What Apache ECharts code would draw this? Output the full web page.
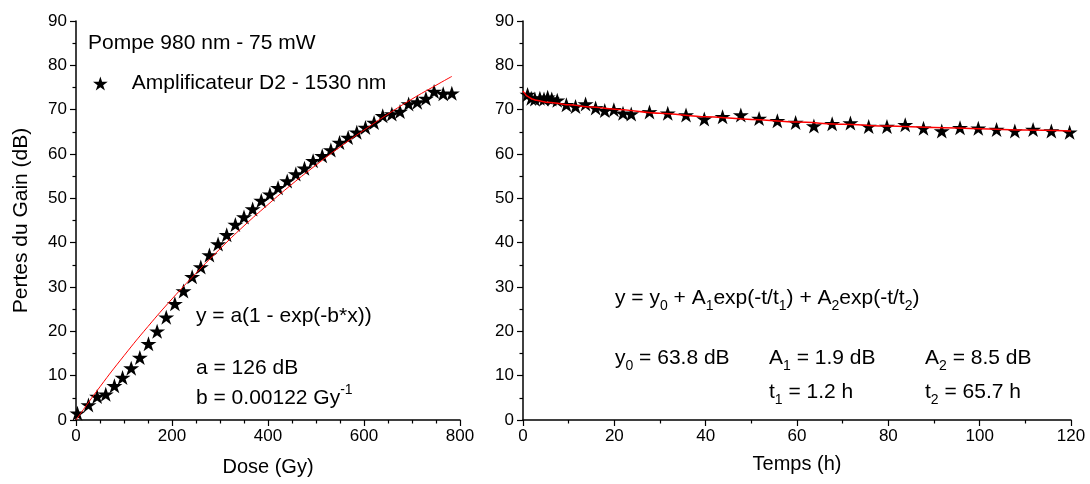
<!DOCTYPE html>
<html>
<head>
<meta charset="utf-8">
<script src="https://cdn.jsdelivr.net/npm/echarts@6/dist/echarts.min.js"></script>
<style>
html,body{margin:0;padding:0;background:#fff;}
#chart{width:1090px;height:484px;}
</style>
</head>
<body>
<div id="chart"></div>
<script>
// ---- Left panel: gain loss vs dose ----
const doseX = [3, 26, 44, 62, 80, 97, 115, 133, 151, 169, 188, 206, 224, 242, 260, 278, 296, 314, 332, 350, 368, 386, 404, 421, 440, 458, 476, 494, 513, 531, 549, 567, 585, 603, 621, 639, 658, 675, 693, 711, 729, 746, 765, 783];
const doseY = [1.5, 3.4, 5.3, 5.8, 7.7, 9.6, 11.7, 14.1, 17.2, 20.0, 23.2, 26.2, 29.1, 32.3, 34.5, 37.2, 39.7, 41.8, 44.1, 45.8, 47.6, 49.5, 50.9, 52.4, 53.9, 55.5, 56.8, 58.5, 59.6, 60.9, 62.6, 63.7, 64.9, 66.0, 67.1, 68.6, 69.0, 69.6, 71.3, 71.7, 72.5, 74.1, 73.6, 73.7];
const doseFitX = [0, 50, 100, 150, 200, 250, 300, 350, 400, 450, 500, 550, 600, 650, 700, 750, 783];
const doseFitY = [0, 7.5, 14.5, 21.1, 27.3, 33.1, 38.6, 43.8, 48.6, 53.2, 57.5, 61.6, 65.4, 69.0, 72.4, 75.5, 77.5];

// ---- Right panel: recovery vs time ----
const timeX = [1.0, 1.8, 2.6, 3.7, 4.6, 5.4, 6.3, 7.5, 9.5, 11.5, 13.7, 15.9, 17.9, 19.9, 21.9, 23.7, 27.7, 31.7, 35.7, 39.7, 43.7, 47.7, 51.7, 55.7, 59.7, 63.7, 67.7, 71.7, 75.7, 79.7, 83.7, 87.7, 91.7, 95.7, 99.7, 103.7, 107.7, 111.7, 115.7, 119.7];
const timeY = [73.4, 72.6, 72.4, 72.6, 72.4, 72.8, 72.4, 72.1, 71.1, 70.7, 71.3, 70.4, 69.8, 70.0, 69.2, 69.0, 69.5, 69.2, 68.8, 67.9, 68.4, 68.8, 68.0, 67.5, 67.1, 66.3, 66.8, 67.0, 66.2, 66.2, 66.6, 65.8, 65.2, 65.9, 65.8, 65.5, 65.2, 65.5, 65.2, 64.9];
const timeFitX = [0, 0.25, 0.5, 0.75, 1, 1.5, 2, 3, 4, 5, 7, 10, 15, 20, 30, 40, 50, 60, 70, 80, 90, 100, 110, 120];
const timeFitY = [74.2, 73.8, 73.5, 73.2, 73.0, 72.7, 72.4, 72.1, 71.9, 71.7, 71.5, 71.1, 70.6, 70.1, 69.2, 68.4, 67.8, 67.2, 66.7, 66.3, 66.0, 65.7, 65.4, 65.2];

// ---- Axis ticks ----
const yTicks = {min: 0, max: 90, interval: 10};
const doseTicks = {min: 0, max: 800, interval: 200};
const timeTicks = {min: 0, max: 120, interval: 20};

const seriesName = 'Amplificateur D2 - 1530 nm';
const titleText = 'Pompe 980 nm - 75 mW';

const FONT = '"Liberation Sans", Arial, Helvetica, sans-serif';
const STAR = 'path://M50 0 L61.17 34.63 L97.55 34.55 L68.07 55.87 L79.39 90.45 L50 69 L20.61 90.45 L31.93 55.87 L2.45 34.55 L38.83 34.63 Z';

function pair(xs, ys) { return xs.map((x, i) => [x, ys[i]]); }

const axisCommon = {
  axisLine: {show: true, onZero: false, lineStyle: {color: '#000', width: 1.5}},
  axisTick: {show: true, inside: false, length: 6, lineStyle: {color: '#000', width: 1.2}},
  minorTick: {show: true, splitNumber: 2, length: 3.5, lineStyle: {color: '#000', width: 1.2}},
  splitLine: {show: false},
  minorSplitLine: {show: false},
  axisLabel: {color: '#000', fontSize: 17, fontFamily: FONT},
  nameTextStyle: {color: '#000', fontSize: 20, fontFamily: FONT},
  nameLocation: 'middle'
};

function xAxis(idx, t, name, minorSplit, gap) {
  return Object.assign({}, axisCommon, {
    type: 'value', gridIndex: idx, min: t.min, max: t.max, interval: t.interval,
    name: name, nameGap: gap,
    minorTick: Object.assign({}, axisCommon.minorTick, {splitNumber: minorSplit}),
    axisLabel: Object.assign({}, axisCommon.axisLabel, {margin: 8})
  });
}
function yAxis(idx, name) {
  return Object.assign({}, axisCommon, {
    type: 'value', gridIndex: idx, min: yTicks.min, max: yTicks.max, interval: yTicks.interval,
    name: name, nameGap: 44,
    nameTextStyle: {color: '#000', fontSize: 21, fontFamily: FONT},
    axisLabel: Object.assign({}, axisCommon.axisLabel, {margin: 9})
  });
}

const mainStyle = {fontSize: 21, fontFamily: FONT, color: '#000', lineHeight: 30, verticalAlign: 'middle'};
const subStyle = {fontSize: 14, fontFamily: FONT, color: '#000', lineHeight: 30, verticalAlign: 'bottom'};
const supStyle = {fontSize: 14, fontFamily: FONT, color: '#000', lineHeight: 30, verticalAlign: 'top'};
const rich = {n: mainStyle, s: subStyle, p: supStyle};

function txt(x, y, text) {
  return {
    type: 'text', x: x, y: y, silent: true,
    style: {text: text, rich: rich, font: '21px ' + FONT, fill: '#000', verticalAlign: 'middle', align: 'left'}
  };
}

const option = {
  backgroundColor: '#fff',
  animation: false,
  grid: [
    {left: 76, top: 21, width: 384, height: 399},
    {left: 523, top: 21, width: 548, height: 399}
  ],
  xAxis: [
    xAxis(0, doseTicks, 'Dose (Gy)', 4, 37),
    xAxis(1, timeTicks, 'Temps (h)', 2, 34)
  ],
  yAxis: [
    yAxis(0, 'Pertes du Gain (dB)'),
    Object.assign(yAxis(1, ''), {name: ''})
  ],
  legend: {
    data: [seriesName],
    left: 88, top: 68,
    itemWidth: 15, itemHeight: 14,
    itemGap: 0,
    textStyle: {color: '#000', fontSize: 21, fontFamily: FONT, padding: [0, 0, 0, 19]},
    itemStyle: {opacity: 1},
    selectedMode: false
  },
  series: [
    {
      name: seriesName, type: 'scatter', xAxisIndex: 0, yAxisIndex: 0,
      data: pair(doseX, doseY), symbol: STAR, symbolSize: [16, 15],
      itemStyle: {color: '#000', opacity: 1}, z: 2
    },
    {
      name: 'fit1', type: 'line', xAxisIndex: 0, yAxisIndex: 0,
      data: pair(doseFitX, doseFitY), showSymbol: false, smooth: true,
      lineStyle: {color: '#ff0000', width: 1}, z: 3
    },
    {
      name: 'recov', type: 'scatter', xAxisIndex: 1, yAxisIndex: 1,
      data: pair(timeX, timeY), symbol: STAR, symbolSize: [16, 15],
      itemStyle: {color: '#000', opacity: 1}, z: 2
    },
    {
      name: 'fit2', type: 'line', xAxisIndex: 1, yAxisIndex: 1,
      data: pair(timeFitX, timeFitY), showSymbol: false, smooth: 0.3, smoothMonotone: 'x',
      lineStyle: {color: '#ff0000', width: 1.5}, z: 3
    }
  ],
  graphic: [
    txt(88, 43, '{n|' + titleText + '}'),
    txt(196, 316, '{n|y = a(1 - exp(-b*x))}'),
    txt(196, 368, '{n|a = 126 dB}'),
    txt(196, 398, '{n|b = 0.00122 Gy}{p|-1}'),
    txt(615, 298, '{n|y = y}{s|0}{n| + A}{s|1}{n|exp(-t/t}{s|1}{n|) + A}{s|2}{n|exp(-t/t}{s|2}{n|)}'),
    txt(615, 358, '{n|y}{s|0}{n| = 63.8 dB}'),
    txt(769, 358, '{n|A}{s|1}{n| = 1.9 dB}'),
    txt(925, 358, '{n|A}{s|2}{n| = 8.5 dB}'),
    txt(769, 392, '{n|t}{s|1}{n| = 1.2 h}'),
    txt(925, 392, '{n|t}{s|2}{n| = 65.7 h}')
  ]
};

const chart = echarts.init(document.getElementById('chart'), null, {renderer: 'canvas'});
chart.setOption(option);
</script>
</body>
</html>
